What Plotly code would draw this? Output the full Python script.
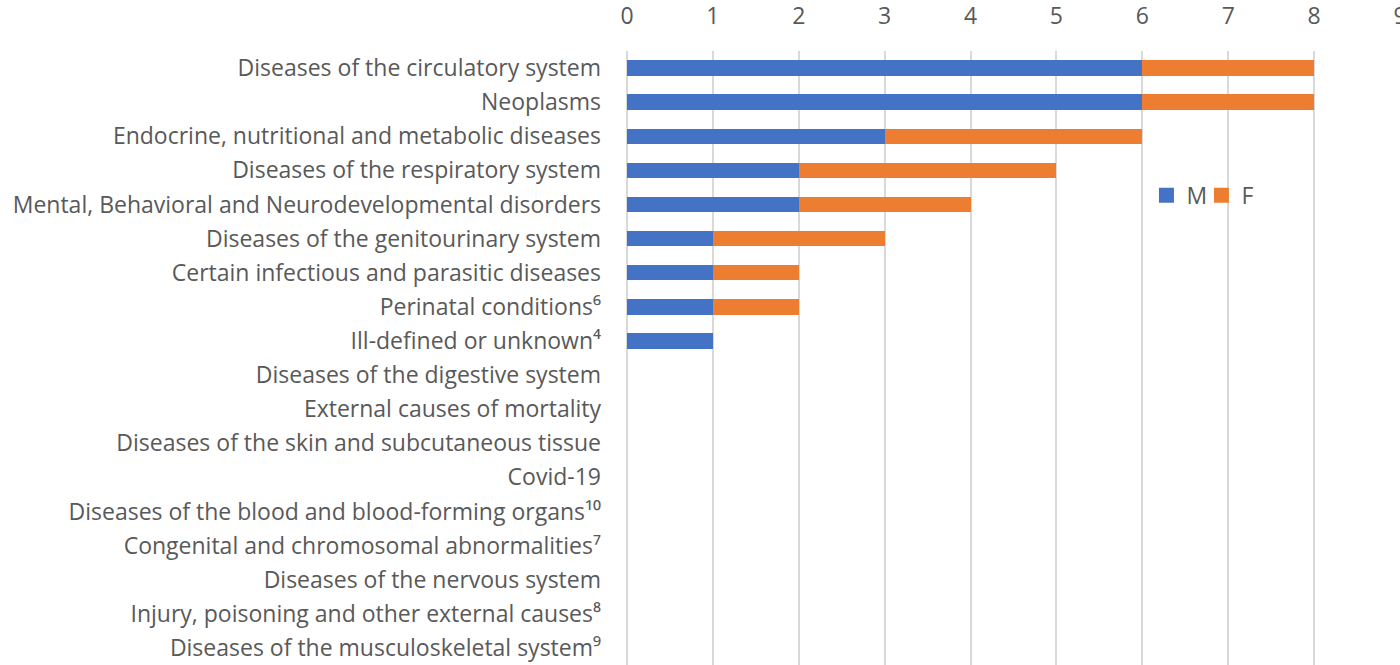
import plotly.graph_objects as go

categories = [
    "Diseases of the circulatory system",
    "Neoplasms",
    "Endocrine, nutritional and metabolic diseases",
    "Diseases of the respiratory system",
    "Mental, Behavioral and Neurodevelopmental disorders",
    "Diseases of the genitourinary system",
    "Certain infectious and parasitic diseases",
    "Perinatal conditions⁶",
    "Ill-defined or unknown⁴",
    "Diseases of the digestive system",
    "External causes of mortality",
    "Diseases of the skin and subcutaneous tissue",
    "Covid-19",
    "Diseases of the blood and blood-forming organs¹⁰",
    "Congenital and chromosomal abnormalities⁷",
    "Diseases of the nervous system",
    "Injury, poisoning and other external causes⁸",
    "Diseases of the musculoskeletal system⁹",
]
male = [6, 6, 3, 2, 2, 1, 1, 1, 1, 0, 0, 0, 0, 0, 0, 0, 0, 0]
female = [2, 2, 3, 3, 2, 2, 1, 1, 0, 0, 0, 0, 0, 0, 0, 0, 0, 0]
x_ticks = [0, 1, 2, 3, 4, 5, 6, 7, 8, 9]
series_names = ["M", "F"]
series_colors = ["#4472C4", "#ED7D31"]

font_family = "'Open Sans', 'Noto Sans', sans-serif"
grey = "#595959"
fs = 23

fig = go.Figure()
for name, vals, col in zip(series_names, [male, female], series_colors):
    fig.add_trace(go.Bar(y=categories, x=vals, name=name, orientation="h",
                         marker=dict(color=col, line=dict(width=0)), width=0.45,
                         legendgroup=name, showlegend=False))
# legend entries with larger square keys
for name, col in zip(series_names, series_colors):
    fig.add_trace(go.Scatter(x=[None], y=[None], name=name, mode="markers",
                             marker=dict(symbol="square", size=15, color=col),
                             legendgroup=name, showlegend=True, hoverinfo="skip"))

fig.update_layout(
    barmode="stack",
    width=1400, height=665,
    margin=dict(l=627, r=0, t=51, b=0, autoexpand=False),
    plot_bgcolor="white", paper_bgcolor="white",
    font=dict(family=font_family, size=fs, color=grey),
    legend=dict(orientation="h", traceorder="normal", x=0.672, y=0.765,
                xanchor="left", yanchor="middle",
                font=dict(size=fs, color=grey), bgcolor="rgba(0,0,0,0)",
                itemwidth=30, entrywidth=10, entrywidthmode="pixels"),
    xaxis=dict(side="top", range=[0, 9], tickvals=x_ticks, showgrid=True,
               automargin=False, ticklabeloverflow="allow",
               gridcolor="#d9d9d9", gridwidth=1.5, zeroline=True, zerolinecolor="#d9d9d9",
               zerolinewidth=1.5, showline=False, ticks="", ticklabelstandoff=21,
               tickfont=dict(size=fs, color=grey)),
    yaxis=dict(autorange="reversed", showgrid=False, showline=False, ticks="",
               automargin=False,
               ticklabelstandoff=25, tickfont=dict(size=fs, color=grey)),
)

fig.write_html("out.html", config={"displayModeBar": False},
               post_script="document.body.style.margin='0';document.body.style.overflow='hidden';")
